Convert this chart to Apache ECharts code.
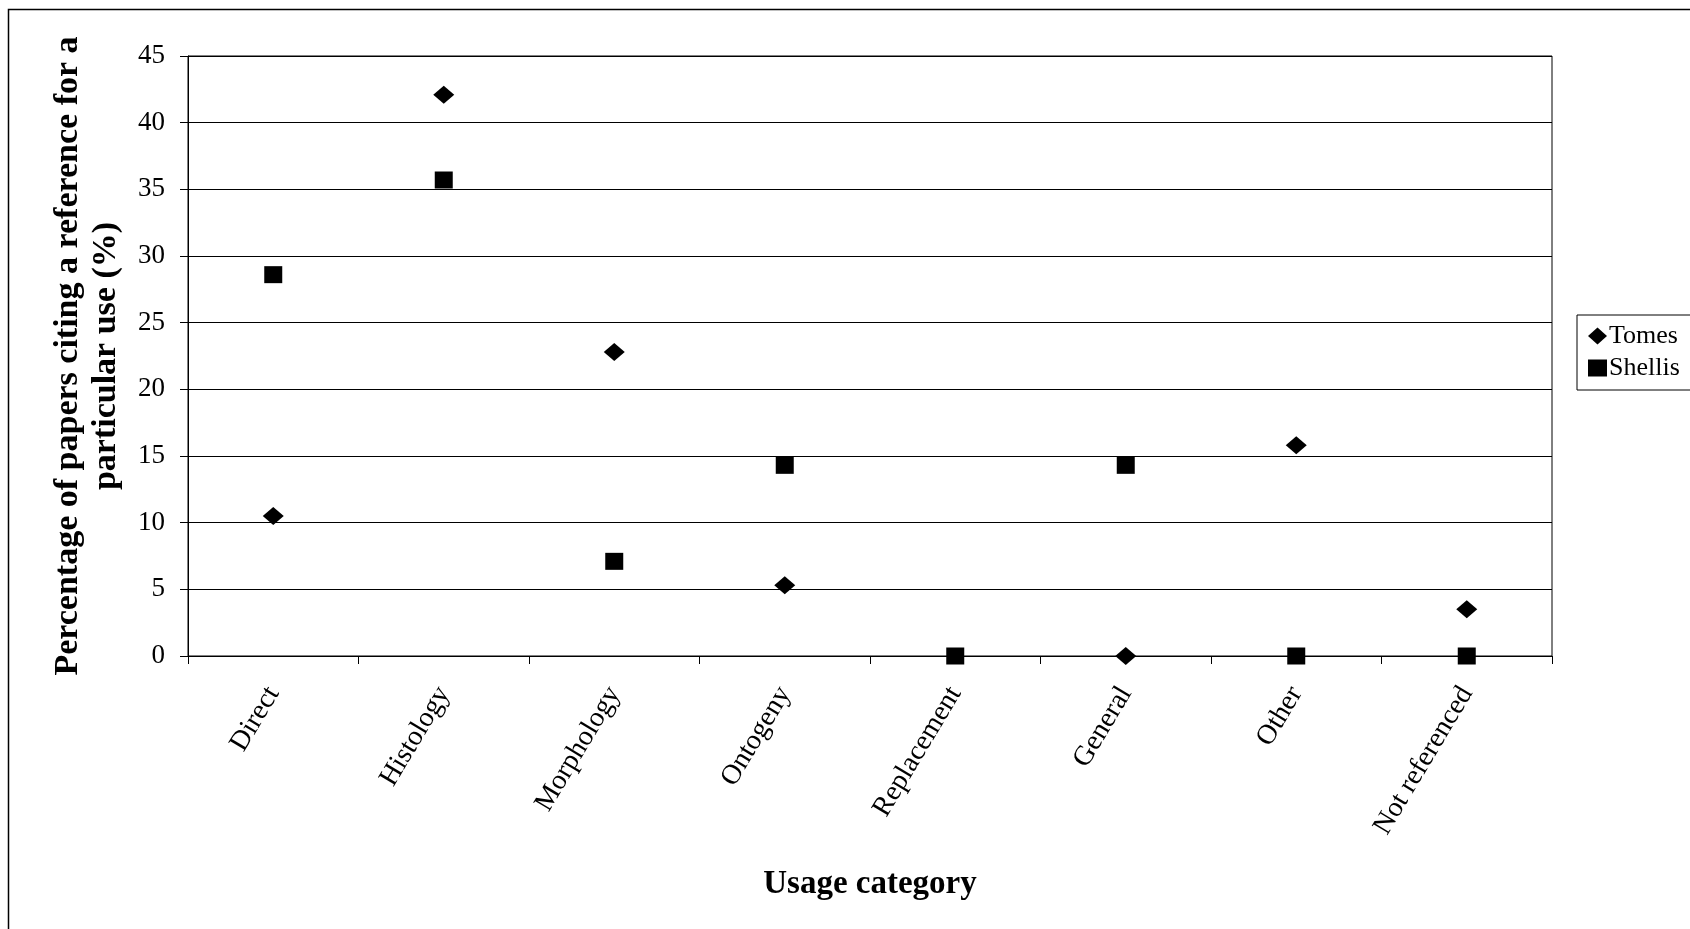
<!DOCTYPE html>
<html>
<head>
<meta charset="utf-8">
<script src="https://cdn.jsdelivr.net/npm/echarts@6/dist/echarts.min.js"></script>
<style>
html,body{margin:0;padding:0;background:#fff;}
#chart{width:1690px;height:929px;}
</style>
</head>
<body>
<div id="chart"></div>
<script>
const categories = ['Direct', 'Histology', 'Morphology', 'Ontogeny', 'Replacement', 'General', 'Other', 'Not referenced'];
const tomes = [10.5, 42.1, 22.8, 5.3, null, 0, 15.8, 3.5];
const shellis = [28.6, 35.7, 7.1, 14.3, 0, 14.3, 0, 0];
const seriesNames = ['Tomes', 'Shellis'];
const yTitle = 'Percentage of papers citing a reference for a\nparticular use (%)';
const xTitle = 'Usage category';

const serif = '"Liberation Serif", "Times New Roman", serif';
const chart = echarts.init(document.getElementById('chart'), null, {renderer: 'canvas'});
chart.setOption({
  animation: false,
  backgroundColor: '#fff',
  graphic: [{
    type: 'rect', silent: true, z: -10,
    shape: {x: 8.5, y: 9.5, width: 1750, height: 1000},
    style: {fill: 'none', stroke: '#000', lineWidth: 1.5}
  }],
  grid: {left: 188, right: 138, top: 56, bottom: 273, show: true, borderColor: '#000', borderWidth: 1, backgroundColor: 'transparent'},
  legend: {
    left: 1577, top: 315, orient: 'vertical',
    data: [{name: seriesNames[0], icon: 'diamond'}, {name: seriesNames[1], icon: 'rect'}],
    itemWidth: 19, itemHeight: 17, itemGap: 6,
    padding: [8, 30, 9, 11],
    borderColor: '#000', borderWidth: 1,
    textStyle: {fontFamily: serif, fontSize: 26, color: '#000', lineHeight: 26, padding: [0, 0, 0, -3]}
  },
  xAxis: {
    type: 'category', data: categories, boundaryGap: true,
    axisLine: {show: true, lineStyle: {color: '#000', width: 1}},
    axisTick: {show: true, length: 8, lineStyle: {color: '#000'}},
    axisLabel: {rotate: 59, interval: 0, margin: 33, fontFamily: serif, fontSize: 28, color: '#000'},
    splitLine: {show: false},
    name: xTitle, nameLocation: 'middle', nameGap: 212,
    nameTextStyle: {fontFamily: serif, fontSize: 33, fontWeight: 'bold', color: '#000'}
  },
  yAxis: {
    type: 'value', min: 0, max: 45, interval: 5,
    axisLine: {show: true, lineStyle: {color: '#000', width: 1}},
    axisTick: {show: true, length: 8, inside: false, lineStyle: {color: '#000'}},
    axisLabel: {margin: 23, fontFamily: serif, fontSize: 27, color: '#000'},
    splitLine: {show: true, lineStyle: {color: '#000', width: 1}},
    name: yTitle, nameLocation: 'middle', nameRotate: 90, nameGap: 63,
    nameTextStyle: {fontFamily: serif, fontSize: 34, fontWeight: 'bold', color: '#000', lineHeight: 38, align: 'center'}
  },
  series: [
    {name: seriesNames[0], type: 'scatter', data: tomes, symbol: 'diamond', symbolSize: [21, 18],
     itemStyle: {color: '#000', opacity: 1}, z: 3},
    {name: seriesNames[1], type: 'scatter', data: shellis, symbol: 'rect', symbolSize: [18, 17],
     itemStyle: {color: '#000', opacity: 1}, z: 4}
  ]
});
</script>
</body>
</html>
